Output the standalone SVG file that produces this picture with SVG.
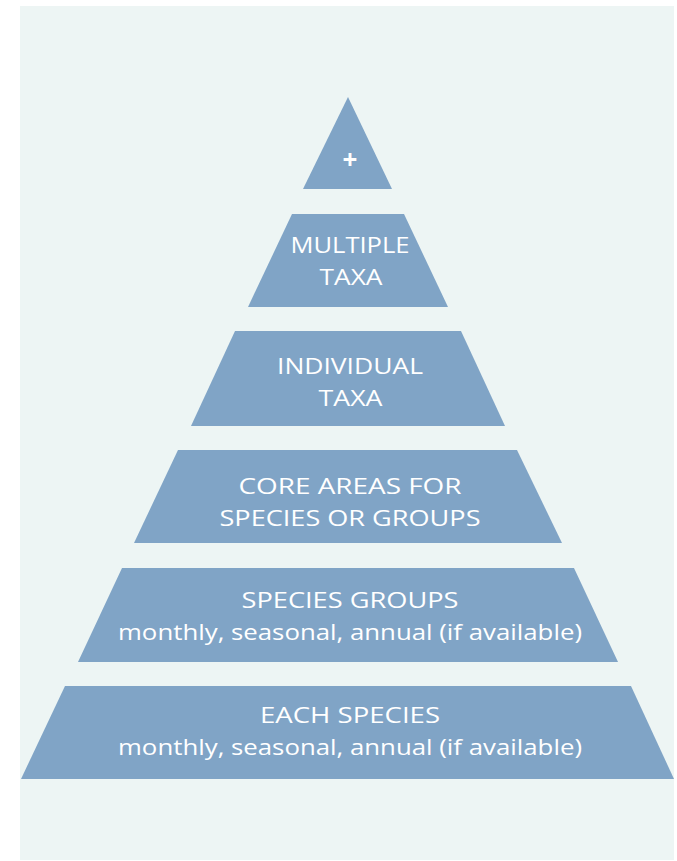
<svg xmlns="http://www.w3.org/2000/svg" width="677" height="861" viewBox="0 0 677 861">
<style>
.bg{fill:#edf5f4}
.lvl{fill:#80a4c6}
.t{fill:#ffffff;font-family:"Open Sans","Liberation Sans",Arial,sans-serif;font-size:22px;font-weight:500;text-anchor:middle}
.p{font-weight:bold;font-size:26px}
</style>
<rect class="bg" x="20" y="6" width="654" height="854"/>
<g id="level-top">
<polygon class="lvl" points="348,97 392,189 303,189"/>
<text class="t p" x="350" y="169">+</text>
</g>
<g id="level-multiple-taxa">
<polygon class="lvl" points="292,214 404,214 448,307 248,307"/>
<text class="t" x="350" y="253" textLength="119" lengthAdjust="spacingAndGlyphs">MULTIPLE</text>
<text class="t" x="351" y="285" textLength="63" lengthAdjust="spacingAndGlyphs">TAXA</text>
</g>
<g id="level-individual-taxa">
<polygon class="lvl" points="235,331 461,331 505,426 191,426"/>
<text class="t" x="350" y="374" textLength="146" lengthAdjust="spacingAndGlyphs">INDIVIDUAL</text>
<text class="t" x="350.5" y="406" textLength="64" lengthAdjust="spacingAndGlyphs">TAXA</text>
</g>
<g id="level-core-areas">
<polygon class="lvl" points="178,450 517,450 562,543 134,543"/>
<text class="t" x="350" y="494" textLength="223" lengthAdjust="spacingAndGlyphs">CORE AREAS FOR</text>
<text class="t" x="350" y="526" textLength="261" lengthAdjust="spacingAndGlyphs">SPECIES OR GROUPS</text>
</g>
<g id="level-species-groups">
<polygon class="lvl" points="122,568 574,568 618,662 78,662"/>
<text class="t" x="350" y="607.5" textLength="217" lengthAdjust="spacingAndGlyphs">SPECIES GROUPS</text>
<text class="t" x="350" y="640" textLength="464" lengthAdjust="spacingAndGlyphs">monthly, seasonal, annual (if available)</text>
</g>
<g id="level-each-species">
<polygon class="lvl" points="65,686 631,686 674,779 21,779"/>
<text class="t" x="350" y="723" textLength="180" lengthAdjust="spacingAndGlyphs">EACH SPECIES</text>
<text class="t" x="350" y="754.5" textLength="464" lengthAdjust="spacingAndGlyphs">monthly, seasonal, annual (if available)</text>
</g>
<g id="connectors"></g>
</svg>
